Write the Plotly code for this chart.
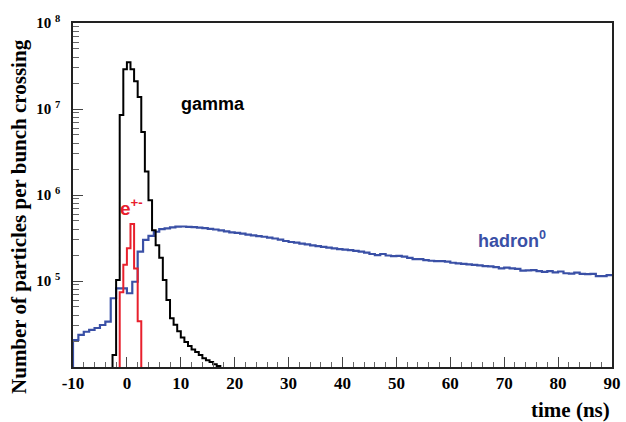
import plotly.graph_objects as go

# ---------------- data ----------------
# neutral hadrons: 1 ns bins starting at -10 ns
hadron_t0 = -10.0
hadron_bin = 1.0
hadron_counts = [
    2.06e4, 2.36e4, 2.57e4, 2.70e4, 2.84e4, 3.08e4, 3.37e4, 6.3e4, 8.2e4, 8.2e4,   # -10 .. -1
    7.2e4, 9.8e4, 2.19e5, 3.0e5, 3.34e5, 3.74e5, 4.0e5, 4.1e5, 4.2e5, 4.28e5,      # 0 .. 9
    4.30e5, 4.27e5, 4.22e5, 4.17e5, 4.12e5, 4.04e5, 3.97e5, 3.88e5, 3.78e5, 3.68e5,  # 10 .. 19
    3.62e5, 3.55e5, 3.47e5, 3.40e5, 3.33e5, 3.27e5, 3.20e5, 3.12e5, 3.02e5, 2.92e5,  # 20 .. 29
    2.84e5, 2.80e5, 2.72e5, 2.66e5, 2.60e5, 2.54e5, 2.50e5, 2.45e5, 2.40e5, 2.35e5,  # 30 .. 39
    2.32e5, 2.28e5, 2.24e5, 2.19e5, 2.14e5, 2.06e5, 2.00e5, 2.06e5, 1.98e5, 1.95e5,  # 40 .. 49
    1.96e5, 1.92e5, 1.86e5, 1.80e5, 1.80e5, 1.75e5, 1.72e5, 1.70e5, 1.70e5, 1.68e5,  # 50 .. 59
    1.63e5, 1.60e5, 1.58e5, 1.56e5, 1.54e5, 1.52e5, 1.49e5, 1.48e5, 1.45e5, 1.40e5,  # 60 .. 69
    1.43e5, 1.40e5, 1.38e5, 1.32e5, 1.33e5, 1.34e5, 1.30e5, 1.28e5, 1.30e5, 1.26e5,  # 70 .. 79
    1.29e5, 1.23e5, 1.22e5, 1.25e5, 1.21e5, 1.20e5, 1.21e5, 1.14e5, 1.14e5, 1.17e5,  # 80 .. 89
]

# photons: 2/3 ns bins starting at -8/3 ns
gamma_t0 = -8.0 / 3.0
gamma_bin = 2.0 / 3.0
gamma_counts = [
    1.38e4, 1.03e5, 8.5e6, 2.9e7, 3.5e7, 2.9e7, 2.1e7, 1.38e7, 5.4e6, 1.87e6,
    8.7e5, 3.9e5, 2.6e5, 1.86e5, 1.03e5, 6.0e4, 3.7e4, 3.1e4, 2.6e4, 2.2e4,
    1.95e4, 1.75e4, 1.6e4, 1.49e4, 1.38e4, 1.26e4, 1.2e4, 1.14e4, 1.08e4, 1.03e4,
]

# electrons / positrons: 2/3 ns bins starting at -4/3 ns
eplus_t0 = -4.0 / 3.0
eplus_bin = 2.0 / 3.0
eplus_counts = [7.4e4, 1.55e5, 2.4e5, 4.6e5, 1.4e5, 3.4e4]

x_ticks = [-10, 0, 10, 20, 30, 40, 50, 60, 70, 80, 90]
y_tick_exponents = [5, 6, 7, 8]

# ---------------- helpers ----------------
FLOOR = 1e2  # below the visible range -> outline drops out of the frame


def step_outline(t0, width, counts, close_right=True):
    edges = [t0 + i * width for i in range(len(counts) + 1)]
    xs = [edges[0]] + edges
    ys = [FLOOR] + list(counts) + [FLOOR if close_right else counts[-1]]
    return xs, ys


BLUE = "#3a50a6"
RED = "#e8202c"
BLACK = "#000000"

fig = go.Figure()

hx, hy = step_outline(hadron_t0, hadron_bin, hadron_counts, close_right=False)
fig.add_trace(go.Scatter(x=hx, y=hy, mode="lines", line=dict(color=BLUE, width=2.2, shape="hv"),
                         showlegend=False, hoverinfo="skip"))

gx, gy = step_outline(gamma_t0, gamma_bin, gamma_counts)
fig.add_trace(go.Scatter(x=gx, y=gy, mode="lines", line=dict(color=BLACK, width=2, shape="hv"),
                         showlegend=False, hoverinfo="skip"))

ex, ey = step_outline(eplus_t0, eplus_bin, eplus_counts)
fig.add_trace(go.Scatter(x=ex, y=ey, mode="lines", line=dict(color=RED, width=2, shape="hv"),
                         showlegend=False, hoverinfo="skip"))

serif = "Liberation Serif"
sans = "Liberation Sans"

minor_y = [m * 10 ** e for e in range(4, 8) for m in range(2, 10)]

fig.update_layout(
    width=626, height=422,
    margin=dict(l=73, r=5, t=23, b=55),
    paper_bgcolor="white", plot_bgcolor="white",
    xaxis=dict(
        range=[-10, 90], tickmode="array", tickvals=x_ticks, ticktext=[str(v) for v in x_ticks],
        ticks="inside", ticklen=10, tickwidth=1, tickcolor="#444",
        minor=dict(dtick=2, tick0=-10, ticks="inside", ticklen=5, tickcolor="#666", showgrid=False),
        showline=True, linecolor="#222", linewidth=1.5, mirror=True,
        showgrid=False, zeroline=False,
        ticklabeloverflow="allow",
        tickfont=dict(family=serif, size=17, color="black", weight="bold"),
    ),
    yaxis=dict(
        type="log", range=[4, 8],
        tickmode="array", tickvals=[10 ** e for e in y_tick_exponents],
        ticktext=["10 <sup>%d</sup>" % e for e in y_tick_exponents],
        ticks="inside", ticklen=10, tickwidth=1, tickcolor="#444",
        minor=dict(tickmode="array", tickvals=minor_y, ticks="inside", ticklen=6, tickcolor="#666", showgrid=False),
        showline=True, linecolor="#222", linewidth=1.5, mirror=True,
        showgrid=False, zeroline=False,
        ticklabelstandoff=8,
        ticklabeloverflow="allow",
        tickfont=dict(family=serif, size=15, color="black", weight="bold"),
    ),
    annotations=[
        dict(text="Number of particles per bunch crossing", textangle=-90,
             xref="paper", yref="paper", x=-0.099, y=0.438, xanchor="center", yanchor="middle",
             showarrow=False, font=dict(family=serif, size=21, color="black", weight="bold")),
        dict(text="time (ns)", xref="paper", yref="paper", x=1.0, y=-0.125,
             xanchor="right", yanchor="middle", showarrow=False,
             font=dict(family=serif, size=21, color="black", weight="bold")),
        dict(text="gamma", xref="x", yref="y", x=15.9, y=7.06, xanchor="center", yanchor="middle",
             showarrow=False, font=dict(family=sans, size=18, color="black", weight="bold")),
        dict(text="e<sup>+-</sup>", xref="x", yref="y", x=0.8, y=5.86, xanchor="center", yanchor="middle",
             showarrow=False, font=dict(family=sans, size=19, color=RED, weight="bold")),
        dict(text="hadron<sup>0</sup>", xref="x", yref="y", x=71.4, y=5.48, xanchor="center", yanchor="middle",
             showarrow=False, font=dict(family=sans, size=18, color=BLUE, weight="bold")),
    ],
)

fig.write_html("out.html")
